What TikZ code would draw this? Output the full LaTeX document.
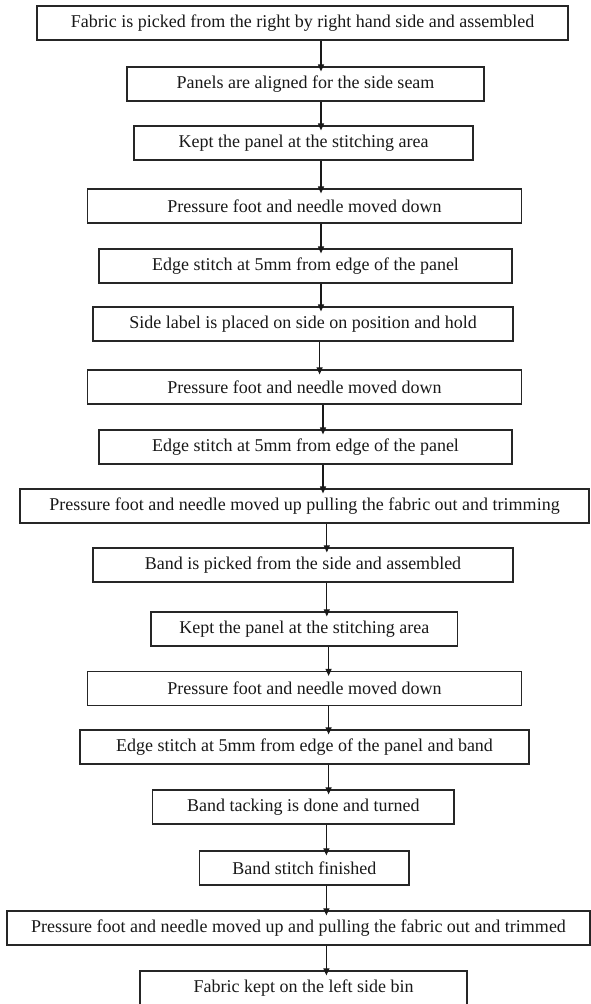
\documentclass[tikz,border=0pt]{standalone}
\usepackage{fontspec}
\setmainfont{Liberation Serif}
\usetikzlibrary{arrows.meta}
\begin{document}
\begin{tikzpicture}[x=1pt,y=-1pt,
  stepbox/.style={draw=black!85, line width=1.2pt, rectangle, inner sep=0pt,
    minimum height=34pt, font=\fontsize{18}{20}\selectfont, text=black!90},
  flow/.style={draw=black!90, line width=1.1pt, -{Triangle[width=6pt,length=7pt]}, shorten >=-5pt}]
\useasboundingbox (0,0) rectangle (591,1004);
\fill[white] (0,0) rectangle (591,1004);
\node[stepbox, minimum width=531pt] (b1) at (302.5,23) {Fabric is picked from the right by right hand side and assembled};
\node[stepbox, minimum width=357pt] (b2) at (305.5,84) {Panels are aligned for the side seam};
\node[stepbox, minimum width=339pt] (b3) at (303.5,143) {Kept the panel at the stitching area};
\node[stepbox, minimum width=434pt] (b4) at (304.5,206) {Pressure foot and needle moved down};
\node[stepbox, minimum width=413pt] (b5) at (305.5,266) {Edge stitch at 5mm from edge of the panel};
\node[stepbox, minimum width=420pt] (b6) at (303,324) {Side label is placed on side on position and hold};
\node[stepbox, minimum width=434pt] (b7) at (304.5,387) {Pressure foot and needle moved down};
\node[stepbox, minimum width=413pt] (b8) at (305.5,447) {Edge stitch at 5mm from edge of the panel};
\node[stepbox, minimum width=569pt] (b9) at (304.5,506) {Pressure foot and needle moved up pulling the fabric out and trimming};
\node[stepbox, minimum width=420pt] (b10) at (303,565) {Band is picked from the side and assembled};
\node[stepbox, minimum width=306.5pt] (b11) at (304.25,629) {Kept the panel at the stitching area};
\node[stepbox, minimum width=434pt] (b12) at (304.5,688.5) {Pressure foot and needle moved down};
\node[stepbox, minimum width=449pt] (b13) at (304.5,747) {Edge stitch at 5mm from edge of the panel and band};
\node[stepbox, minimum width=301.5pt] (b14) at (303.25,807) {Band tacking is done and turned};
\node[stepbox, minimum width=209.5pt] (b15) at (304.25,868) {Band stitch finished};
\node[stepbox, minimum width=583pt] (b16) at (298.5,928) {Pressure foot and needle moved up and pulling the fabric out and trimmed};
\node[stepbox, minimum width=327pt] (b17) at (303.5,988) {Fabric kept on the left side bin};
\coordinate (xa) at (321,0);
\coordinate (xb) at (319.6,0);
\coordinate (xc) at (323,0);
\coordinate (xd) at (326.8,0);
\coordinate (xe) at (328.6,0);
\coordinate (xf) at (326.4,0);
\draw[flow] (b1.south -| xa) -- (b2.north -| xa);
\draw[flow] (b2.south -| xa) -- (b3.north -| xa);
\draw[flow] (b3.south -| xa) -- (b4.north -| xa);
\draw[flow] (b4.south -| xa) -- (b5.north -| xa);
\draw[flow] (b5.south -| xa) -- (b6.north -| xa);
\draw[flow] (b6.south -| xb) -- (b7.north -| xb);
\draw[flow] (b7.south -| xc) -- (b8.north -| xc);
\draw[flow] (b8.south -| xc) -- (b9.north -| xc);
\draw[flow] (b9.south -| xd) -- (b10.north -| xd);
\draw[flow] (b10.south -| xd) -- (b11.north -| xd);
\draw[flow] (b11.south -| xe) -- (b12.north -| xe);
\draw[flow] (b12.south -| xe) -- (b13.north -| xe);
\draw[flow] (b13.south -| xe) -- (b14.north -| xe);
\draw[flow] (b14.south -| xf) -- (b15.north -| xf);
\draw[flow] (b15.south -| xf) -- (b16.north -| xf);
\draw[flow] (b16.south -| xf) -- (b17.north -| xf);
\end{tikzpicture}
\end{document}
